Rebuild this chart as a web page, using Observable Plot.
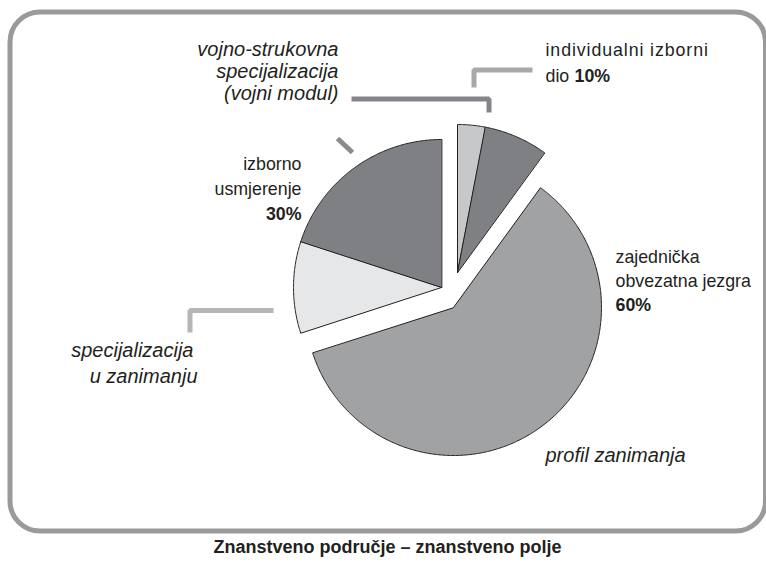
<!DOCTYPE html>
<html><head><meta charset="utf-8">
<script src="https://cdn.jsdelivr.net/npm/d3@7"></script>
<script src="https://cdn.jsdelivr.net/npm/@observablehq/plot@0.6"></script>
<style>
html,body{margin:0;padding:0;background:#fff;}
</style></head><body><div id="chart"></div>
<script>
// ---- data ----
const sliceNames = ["individualni izborni dio (a)", "individualni izborni dio (b)", "zajednička obvezatna jezgra / profil zanimanja", "specijalizacija u zanimanju", "vojno-strukovna specijalizacija (vojni modul)"];
const sliceValues = [3, 7, 60, 10, 20];
const sliceGroups = ["A", "A", "B", "C", "C"];
const sliceColors = ["#c7c8ca", "#7f8083", "#a1a2a4", "#e6e7e8", "#7f8083"];
const groupLabels = ["individualni izborni", "dio", "10%", "zajednička", "obvezatna jezgra", "60%", "izborno", "usmjerenje", "30%"];
const italicLabels = ["vojno-strukovna", "specijalizacija", "(vojni modul)", "specijalizacija", "u zanimanju", "profil zanimanja"];
const title = "Znanstveno područje – znanstveno polje";

// ---- layout (positions & styles) ----
const W = 766, H = 570, R = 148;
const groupCenters = {A: [457, 272], B: [453, 307], C: [441, 287]};
const FONT = "'Liberation Sans', Arial, Helvetica, sans-serif";
const TXT = "#231f20";
const REG_SIZE = 17.8;

const pie = d3.pie().sort(null).value(d => d).startAngle(0).endAngle(2 * Math.PI)(sliceValues);
const slicePts = [];
pie.forEach((p, i) => {
  const [cx, cy] = groupCenters[sliceGroups[i]];
  slicePts.push({s: sliceNames[i], x: cx, y: cy, c: sliceColors[i]});
  const n = Math.max(2, Math.ceil((p.endAngle - p.startAngle) / (Math.PI / 360)));
  for (let k = 0; k <= n; k++) {
    const a = p.startAngle + (p.endAngle - p.startAngle) * k / n;
    slicePts.push({s: sliceNames[i], x: cx + R * Math.sin(a), y: cy - R * Math.cos(a), c: sliceColors[i]});
  }
});

const leaders = [
  {id: 1, color: "#848588", pts: [[351, 98.5], [488.5, 98.5], [488.5, 112]]},
  {id: 2, color: "#a7a8aa", pts: [[532, 69.5], [473.5, 69.5], [473.5, 87]]},
  {id: 3, color: "#8a8b8d", pts: [[337, 138], [352, 152]]},
  {id: 4, color: "#b5b6b8", pts: [[273, 310], [189.5, 310], [189.5, 332]]}
];
const leaderPts = leaders.flatMap(l => l.pts.map(([x, y]) => ({id: l.id, x, y, c: l.color})));

// label placement: [x, y(baseline), anchor, bold]
const regPos = [[545, 55, "start", false], [545, 81, "start", false], [574, 81, "start", true],
  [615, 262, "start", false], [615, 286, "start", false], [615, 310, "start", true],
  [301, 169, "end", false], [301, 194, "end", false], [301, 219, "end", true]];
const itPos = [[338, 55, "end"], [338, 77, "end"], [338, 99, "end"], [193, 356, "end"], [197, 382, "end"], [545, 461, "start"]];

const regData = groupLabels.map((t, i) => ({t, x: regPos[i][0], y: regPos[i][1], a: regPos[i][2], b: regPos[i][3]}));
const itData = italicLabels.map((t, i) => ({t, x: itPos[i][0], y: itPos[i][1], a: itPos[i][2]}));

function textMarks(data, opts) {
  const out = [];
  for (const anchor of ["start", "end", "middle"]) {
    for (const bold of [false, true]) {
      const d = data.filter(e => e.a === anchor && !!e.b === bold);
      if (!d.length) continue;
      out.push(Plot.text(d, {x: "x", y: "y", text: "t", textAnchor: anchor, lineAnchor: "bottom",
        fill: TXT, fontWeight: bold ? "bold" : "normal", ...opts}));
    }
  }
  return out;
}

const chart = Plot.plot({
  width: W, height: H,
  margin: 0,
  style: {fontFamily: FONT, background: "#fff"},
  x: {domain: [0, W], range: [0, W], axis: null},
  y: {domain: [0, H], range: [0, H], axis: null},
  marks: [
    Plot.frame({stroke: "#9a9a9a", strokeWidth: 5, rx: 30, ry: 30, insetLeft: 9.5, insetTop: 11.5, insetBottom: H - 530.5, insetRight: 1}),
    Plot.line(slicePts, {x: "x", y: "y", z: "s", fill: "c", stroke: "#231f20", strokeWidth: 1, curve: "linear-closed", strokeLinejoin: "miter"}),
    Plot.line(leaderPts, {x: "x", y: "y", z: "id", stroke: "c", strokeWidth: 5, strokeLinecap: "butt", strokeLinejoin: "miter"}),
    ...textMarks(regData, {fontSize: REG_SIZE, fontFamily: FONT}),
    ...textMarks(itData, {fontSize: 20, fontStyle: "italic", fontFamily: FONT}),
    Plot.text([title], {x: () => 387, y: () => 552, text: d => d, textAnchor: "middle", lineAnchor: "bottom", fontSize: 18, fontWeight: "bold", fill: TXT, fontFamily: FONT})
  ]
});
// the top-right label is set a little looser in the reference
chart.querySelectorAll("text").forEach(el => {
  if (el.textContent === groupLabels[0]) el.setAttribute("letter-spacing", "0.9");
});
document.getElementById("chart").appendChild(chart);
</script>
</body></html>
